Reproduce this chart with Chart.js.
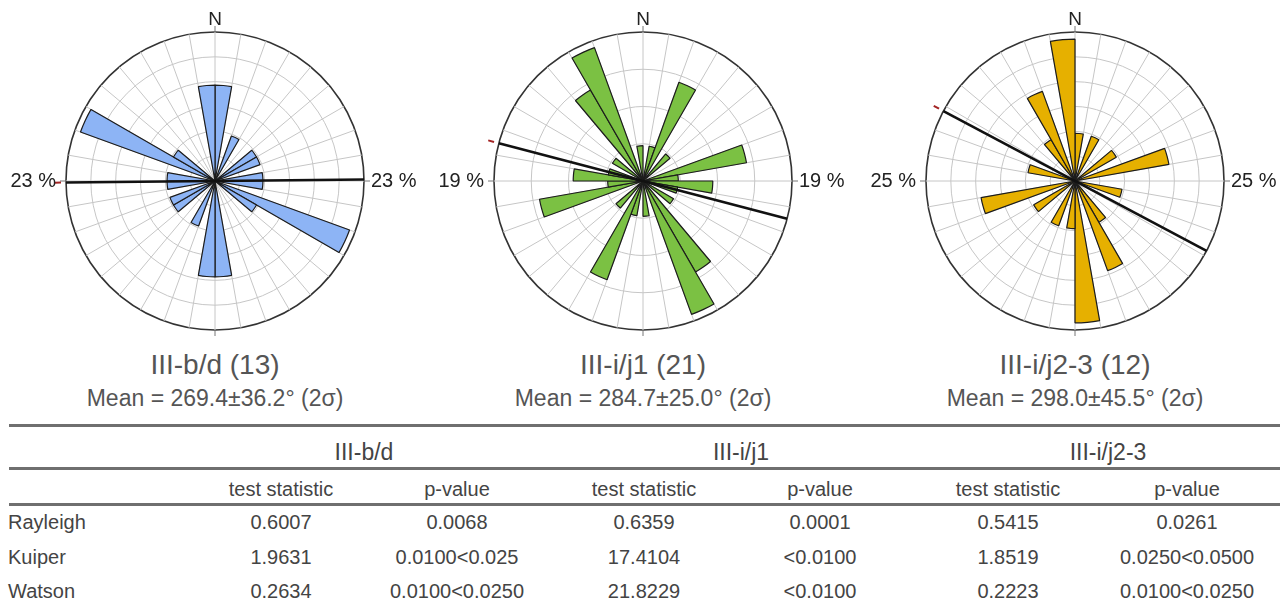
<!DOCTYPE html>
<html>
<head>
<meta charset="utf-8">
<script src="https://cdn.jsdelivr.net/npm/chart.js@4.4.0/dist/chart.umd.min.js"></script>
<style>
  body { margin: 0; background: #fff; font-family: "Liberation Sans", Arial, sans-serif; }
  #wrap { position: relative; width: 1288px; height: 607px; overflow: hidden; }
  .rose { position: absolute; top: 0; }
  .cap { position: absolute; transform: translateX(-50%); white-space: nowrap; color: #555; line-height: 1; }
  .t1 { font-size: 28px; top: 351px; }
  .t2 { font-size: 23px; top: 387px; }
  .rule { position: absolute; left: 9px; width: 1271px; height: 3px; background: #6f6f6f; }
  .cell { position: absolute; transform: translate(-50%, -50%); white-space: nowrap; color: #444; font-size: 20px; line-height: 1; }
  .cell.left { transform: translate(0, -50%); }
  .cell.grp { font-size: 23px; }
</style>
</head>
<body>
<div id="wrap">
  <canvas id="rose1" class="rose" width="430" height="340" style="left:0px"></canvas>
  <canvas id="rose2" class="rose" width="430" height="340" style="left:428px"></canvas>
  <canvas id="rose3" class="rose" width="430" height="340" style="left:860px"></canvas>
</div>
<script>
// 10 degree bins, clockwise from north
const binStarts = [0, 10, 20, 30, 40, 50, 60, 70, 80, 90, 100, 110, 120, 130, 140, 150, 160, 170,
                   180, 190, 200, 210, 220, 230, 240, 250, 260, 270, 280, 290, 300, 310, 320, 330, 340, 350];

// percent per bin (axial data, mirrored)
const roseBD = [14.8, 0, 7.4, 0, 0, 7.4, 7.4, 0, 7.4, 7.4, 0, 22.1, 7.4, 0, 0, 0, 0, 14.8,
                14.8, 0, 7.4, 0, 0, 7.4, 7.4, 0, 7.4, 7.4, 0, 22.1, 7.4, 0, 0, 0, 0, 14.8];
const roseJ1 = [0, 4.5, 13.4, 0, 4.5, 0, 0, 13.4, 4.5, 8.9, 4.5, 0, 4.5, 0, 13.4, 18.1, 0, 4.5,
                0, 4.5, 13.4, 0, 4.5, 0, 0, 13.4, 4.5, 8.9, 4.5, 0, 4.5, 0, 13.4, 18.1, 0, 4.5];
const roseJ23 = [8.0, 0, 8.0, 0, 0, 8.0, 0, 16.0, 0, 0, 8.0, 0, 0, 0, 8.0, 16.0, 0, 23.8,
                 8.0, 0, 8.0, 0, 0, 8.0, 0, 16.0, 0, 0, 8.0, 0, 0, 0, 8.0, 16.0, 0, 23.8];

const roseNames = ['III-b/d (13)', 'III-i/j1 (21)', 'III-i/j2-3 (12)'];
const meanDir = [269.4, 284.7, 298.0];
const meanText = ['Mean = 269.4±36.2° (2σ)', 'Mean = 284.7±25.0° (2σ)', 'Mean = 298.0±45.5° (2σ)'];
const maxPct = [23, 19, 25];
const maxLabels = ['23 %', '19 %', '25 %'];
const rings = [6, 4, 6];
const fills = ['#8db4f5', '#7bc143', '#e6b000'];

// table
const groups = ['III-b/d', 'III-i/j1', 'III-i/j2-3'];
const colHeads = ['test statistic', 'p-value', 'test statistic', 'p-value', 'test statistic', 'p-value'];
const tests = ['Rayleigh', 'Kuiper', 'Watson'];
const statBD = ['0.6007', '1.9631', '0.2634'];
const pBD = ['0.0068', '0.0100<0.025', '0.0100<0.0250'];
const statJ1 = ['0.6359', '17.4104', '21.8229'];
const pJ1 = ['0.0001', '<0.0100', '<0.0100'];
const statJ23 = ['0.5415', '1.8519', '0.2223'];
const pJ23 = ['0.0261', '0.0250<0.0500', '0.0100<0.0250'];

const FONT = '"Liberation Sans", Arial, sans-serif';

const roseDecor = {
  id: 'roseDecor',
  afterDatasetsDraw(chart, args, o) {
    const s = chart.scales.r, c = chart.ctx;
    const cx = s.xCenter, cy = s.yCenter, R = s.drawingArea;
    const pt = (deg, rho) => {
      const a = deg * Math.PI / 180;
      return [cx + rho * Math.sin(a), cy - rho * Math.cos(a)];
    };
    const seg = (p1, p2) => { c.beginPath(); c.moveTo(p1[0], p1[1]); c.lineTo(p2[0], p2[1]); c.stroke(); };
    c.save();
    // little compass ticks outside the circle
    c.strokeStyle = '#777';
    c.lineWidth = 1;
    [0, 90, 180, 270].forEach(d => seg(pt(d, R), pt(d, R + 6)));
    // mean direction
    c.strokeStyle = '#111';
    c.lineWidth = 2.6;
    seg(pt(o.mean, R), pt(o.mean + 180, R));
    c.strokeStyle = '#a32424';
    c.lineWidth = 2;
    seg(pt(o.mean, R + 5), pt(o.mean, R + 11));
    // labels
    c.fillStyle = '#222';
    c.font = '19px ' + FONT;
    c.textAlign = 'center';
    c.textBaseline = 'alphabetic';
    c.fillText('N', cx, cy - R - 7);
    c.font = '20px ' + FONT;
    c.textBaseline = 'middle';
    c.textAlign = 'right';
    c.fillText(o.label, cx - R - 10, cy);
    c.textAlign = 'left';
    c.fillText(o.label, cx + R + 7, cy);
    c.restore();
  }
};

function makeRose(id, values, i) {
  const max = maxPct[i];
  return new Chart(document.getElementById(id), {
    type: 'polarArea',
    data: {
      labels: binStarts,
      datasets: [{
        data: values,
        backgroundColor: fills[i],
        borderColor: '#1c1c1c',
        borderWidth: 1.2
      }]
    },
    options: {
      responsive: false,
      animation: false,
      layout: { padding: { top: 32, bottom: 10, left: 66, right: 66 } },
      plugins: {
        legend: { display: false },
        tooltip: { enabled: false },
        roseDecor: { mean: meanDir[i], label: maxLabels[i] }
      },
      scales: {
        r: {
          min: 0,
          max: max,
          ticks: { display: false, count: rings[i] + 1 },
          grid: {
            circular: true,
            color: ctx => (ctx.tick && ctx.tick.value >= max - 0.001) ? '#333' : '#c6c6c6',
            lineWidth: ctx => (ctx.tick && ctx.tick.value >= max - 0.001) ? 1.6 : 1
          },
          angleLines: { display: true, color: '#c6c6c6', lineWidth: 1 },
          pointLabels: { display: false }
        }
      }
    },
    plugins: [roseDecor]
  });
}

makeRose('rose1', roseBD, 0);
makeRose('rose2', roseJ1, 1);
makeRose('rose3', roseJ23, 2);

// captions and table as html text
const wrap = document.getElementById('wrap');
function put(cls, text, x, y) {
  const d = document.createElement('div');
  d.className = cls;
  d.textContent = text;
  d.style.left = x + 'px';
  if (y !== undefined) d.style.top = y + 'px';
  wrap.appendChild(d);
}
const roseCenters = [215, 643, 1075];
roseNames.forEach((t, i) => {
  put('cap t1', t, roseCenters[i]);
  put('cap t2', meanText[i], roseCenters[i]);
});

[424, 467, 503].forEach(y => {
  const r = document.createElement('div');
  r.className = 'rule';
  r.style.top = y + 'px';
  wrap.appendChild(r);
});

const groupX = [364, 741, 1108];
const colX = [281, 457, 644, 820, 1008, 1187];
const rowY = [522, 557, 591];
groups.forEach((g, i) => put('cell grp', g, groupX[i], 452));
colHeads.forEach((h, i) => put('cell', h, colX[i], 489));
const cols = [statBD, pBD, statJ1, pJ1, statJ23, pJ23];
tests.forEach((t, r) => {
  put('cell left', t, 8, rowY[r]);
  cols.forEach((col, k) => put('cell', col[r], colX[k], rowY[r]));
});
</script>
</body>
</html>
